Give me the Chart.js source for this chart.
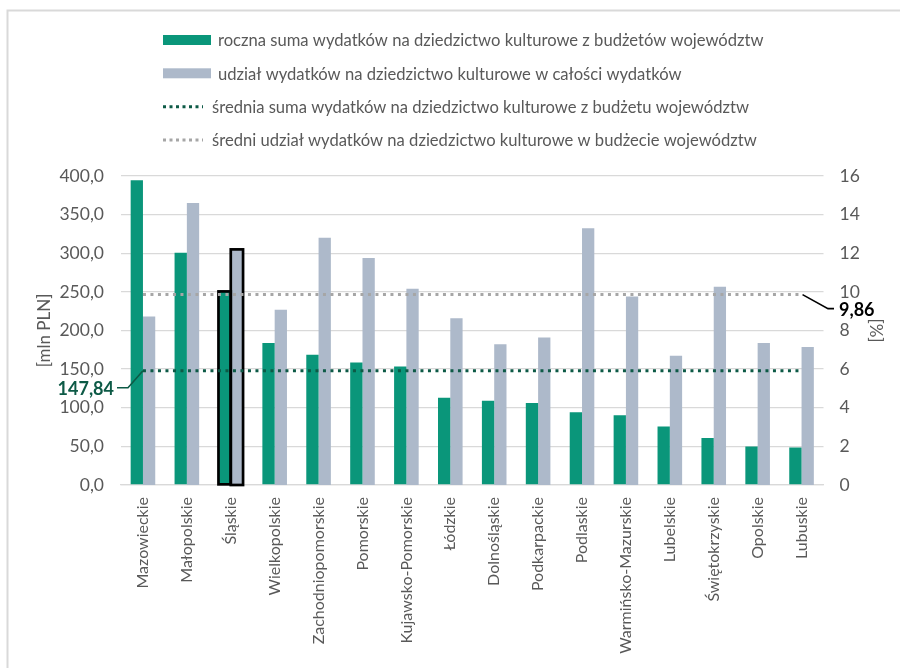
<!DOCTYPE html>
<html lang="pl">
<head>
<meta charset="utf-8">
<title>Wydatki na dziedzictwo kulturowe</title>
<script src="https://cdn.jsdelivr.net/npm/chart.js@4/dist/chart.umd.min.js"></script>
<style>
  html, body { margin: 0; padding: 0; background: #ffffff; }
  #wrap { width: 900px; height: 668px; position: relative; }
</style>
</head>
<body>
<div id="wrap"><canvas id="chart" width="900" height="668"></canvas></div>
<script>
// Województwa, in the order shown on the axis
const regions = ['Mazowieckie', 'Małopolskie', 'Śląskie', 'Wielkopolskie', 'Zachodniopomorskie',
  'Pomorskie', 'Kujawsko-Pomorskie', 'Łódzkie', 'Dolnośląskie', 'Podkarpackie', 'Podlaskie',
  'Warmińsko-Mazurskie', 'Lubelskie', 'Świętokrzyskie', 'Opolskie', 'Lubuskie'];

// Annual spending on cultural heritage [mln PLN]
const spendingMln = [394.5, 300.8, 250.6, 183.8, 168.5, 158.6, 153.4, 112.9, 108.9, 106.2,
  94.2, 90.3, 75.7, 60.8, 49.8, 48.5];

// Share of heritage spending in total spending [%]
const sharePct = [8.72, 14.60, 12.20, 9.07, 12.80, 11.75, 10.16, 8.64, 7.29, 7.64, 13.29,
  9.76, 6.69, 10.26, 7.35, 7.14];

// Averages across województwa
const avgSpending = 147.84;
const avgShare = 9.86;

// Region outlined on the chart
const highlightedRegion = 'Śląskie';

const seriesNames = [
  'roczna suma wydatków na dziedzictwo kulturowe z budżetów województw',
  'udział wydatków na dziedzictwo kulturowe w całości wydatków',
  'średnia suma wydatków na dziedzictwo kulturowe z budżetu województw',
  'średni udział wydatków na dziedzictwo kulturowe w budżecie województw'
];

const leftTickLabels = ['0,0', '50,0', '100,0', '150,0', '200,0', '250,0', '300,0', '350,0', '400,0'];
const rightTickLabels = ['0', '2', '4', '6', '8', '10', '12', '14', '16'];
const leftAxisTitle = '[mln PLN]';
const rightAxisTitle = '[%]';

// Palette
const GREEN = '#0a967a';
const BLUEGRAY = '#adb9ca';
const DARKGREEN = '#0d5a46';
const DOTGRAY = '#a6a6a6';
const TEXT = '#595959';
const GRID = '#d9d9d9';
const FONT = 'Lato, "Open Sans", sans-serif';

const fmt = v => v.toFixed(2).replace('.', ',');

// Frame, legend, value callouts and the outline of the highlighted region
const decorations = {
  id: 'decorations',
  beforeDraw(chart) {
    const ctx = chart.ctx;
    ctx.save();
    ctx.strokeStyle = GRID;
    ctx.lineWidth = 2;
    ctx.beginPath();
    ctx.moveTo(7.5, 668);
    ctx.lineTo(7.5, 10.5);
    ctx.lineTo(900, 10.5);
    ctx.stroke();
    ctx.restore();
  },
  afterDatasetDraw(chart, args) {
    if (args.index !== 0) return;
    const i = regions.indexOf(highlightedRegion);
    const ctx = chart.ctx;
    ctx.save();
    ctx.strokeStyle = '#000000';
    ctx.lineWidth = 2.7;
    ctx.lineJoin = 'miter';
    [0, 1].forEach(d => {
      const el = chart.getDatasetMeta(d).data[i];
      const p = el.getProps(['x', 'y', 'base', 'width'], true);
      ctx.strokeRect(p.x - p.width / 2, p.y, p.width, p.base - p.y);
    });
    ctx.restore();
  },
  afterDraw(chart) {
    const ctx = chart.ctx;
    ctx.save();

    // legend
    const rows = [40, 73.3, 106.7, 140];
    ctx.font = '16.6px ' + FONT;
    ctx.fillStyle = TEXT;
    ctx.textBaseline = 'middle';
    ctx.textAlign = 'left';
    rows.forEach((y, k) => {
      if (k < 2) {
        ctx.fillStyle = k === 0 ? GREEN : BLUEGRAY;
        ctx.fillRect(163, y - 5, 48, 10);
        ctx.fillStyle = TEXT;
        ctx.fillText(seriesNames[k], 218, y + 1);
      } else {
        ctx.strokeStyle = k === 2 ? DARKGREEN : DOTGRAY;
        ctx.lineWidth = 3;
        ctx.setLineDash([3, 3.5]);
        ctx.beginPath();
        ctx.moveTo(163, y);
        ctx.lineTo(203, y);
        ctx.stroke();
        ctx.setLineDash([]);
        ctx.fillStyle = TEXT;
        ctx.fillText(seriesNames[k], 212, y + 1);
      }
    });

    // callout for the average spending line
    const a = chart.getDatasetMeta(2).data[0];
    ctx.strokeStyle = DARKGREEN;
    ctx.lineWidth = 1.6;
    ctx.beginPath();
    ctx.moveTo(a.x, a.y);
    ctx.lineTo(128, a.y + 17);
    ctx.lineTo(117, a.y + 17);
    ctx.stroke();
    ctx.font = 'bold 18px ' + FONT;
    ctx.fillStyle = DARKGREEN;
    ctx.textAlign = 'right';
    ctx.fillText(fmt(avgSpending), 114, a.y + 18);

    // callout for the average share line
    const bMeta = chart.getDatasetMeta(3).data;
    const b = bMeta[bMeta.length - 1];
    ctx.strokeStyle = '#000000';
    ctx.beginPath();
    ctx.moveTo(b.x + 1, b.y);
    ctx.lineTo(828, b.y + 14);
    ctx.lineTo(834, b.y + 14);
    ctx.stroke();
    ctx.fillStyle = '#000000';
    ctx.textAlign = 'left';
    ctx.fillText(fmt(avgShare), 839, b.y + 16);

    ctx.restore();
  }
};

new Chart(document.getElementById('chart'), {
  type: 'bar',
  data: {
    labels: regions,
    datasets: [
      {
        type: 'bar', label: seriesNames[0], data: spendingMln, yAxisID: 'yL',
        backgroundColor: GREEN, categoryPercentage: 0.56, barPercentage: 1, order: 1
      },
      {
        type: 'bar', label: seriesNames[1], data: sharePct, yAxisID: 'yR',
        backgroundColor: BLUEGRAY, categoryPercentage: 0.56, barPercentage: 1, order: 1
      },
      {
        type: 'line', label: seriesNames[2], data: regions.map(() => avgSpending), yAxisID: 'yL',
        borderColor: DARKGREEN, borderWidth: 3, borderDash: [3, 4.5], pointRadius: 0,
        fill: false, order: 0
      },
      {
        type: 'line', label: seriesNames[3], data: regions.map(() => avgShare), yAxisID: 'yR',
        borderColor: DOTGRAY, borderWidth: 3, borderDash: [3, 4.5], pointRadius: 0,
        fill: false, order: 0
      }
    ]
  },
  options: {
    responsive: false,
    animation: false,
    devicePixelRatio: 1,
    layout: { padding: { top: 176, left: 0, right: 0, bottom: 0 } },
    plugins: { legend: { display: false }, tooltip: { enabled: false } },
    scales: {
      x: {
        grid: { display: false, drawTicks: false },
        border: { color: GRID, width: 1.3 },
        ticks: {
          minRotation: 90, maxRotation: 90, autoSkip: false, padding: 12,
          color: TEXT, font: { family: FONT, size: 16 }
        },
        afterFit(s) { s.height = 183; }
      },
      yL: {
        position: 'left', min: 0, max: 400,
        ticks: {
          stepSize: 50, padding: 17, color: TEXT, font: { family: FONT, size: 17.5 },
          callback: (v, i) => leftTickLabels[i]
        },
        grid: { color: GRID, lineWidth: 1.3, drawTicks: false },
        border: { display: false },
        title: {
          display: true, text: leftAxisTitle, color: TEXT,
          font: { family: FONT, size: 17 }, padding: { top: 34, bottom: 0 }
        },
        afterFit(s) { s.width = 121; }
      },
      yR: {
        position: 'right', min: 0, max: 16,
        ticks: {
          stepSize: 2, padding: 16, color: TEXT, font: { family: FONT, size: 17.5 },
          callback: (v, i) => rightTickLabels[i]
        },
        grid: { display: false, drawTicks: false },
        border: { display: false },
        title: {
          display: true, text: rightAxisTitle, color: TEXT,
          font: { family: FONT, size: 17 }, padding: { top: 14, bottom: 0 }
        },
        afterFit(s) { s.width = 76.5; }
      }
    }
  },
  plugins: [decorations]
});
</script>
</body>
</html>
